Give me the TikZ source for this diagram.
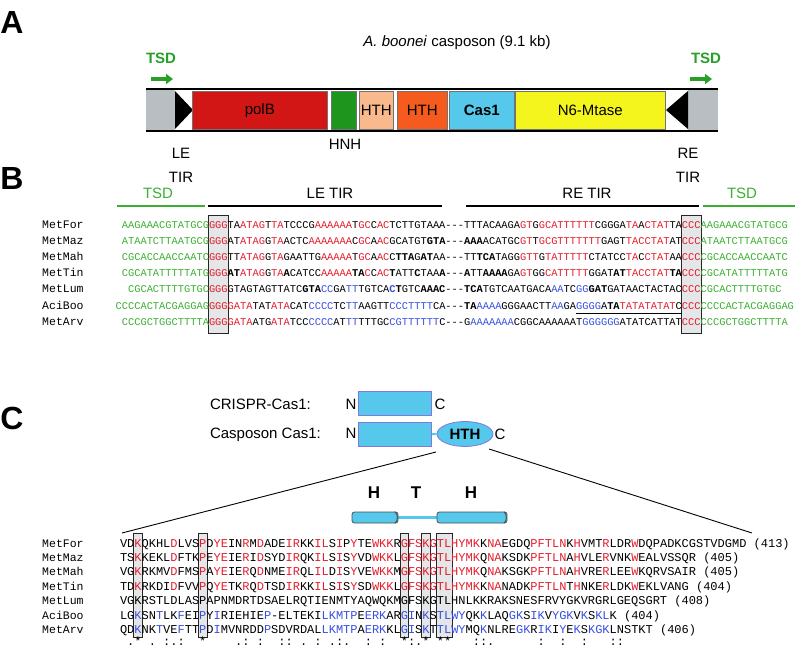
\documentclass[tikz,border=0pt]{standalone}
\usepackage{fontspec}
\setmainfont{Liberation Sans}
\setsansfont{Liberation Sans}
\setmonofont{Liberation Mono}
\usetikzlibrary{arrows.meta,shapes.geometric}
\definecolor{sred}{RGB}{228,30,45}
\definecolor{sblue}{RGB}{55,80,225}
\definecolor{sgreen}{RGB}{60,175,50}
\definecolor{tsdgreen}{RGB}{40,160,40}
\definecolor{cpolb}{RGB}{210,22,22}
\definecolor{chnh}{RGB}{30,150,30}
\definecolor{cpeach}{RGB}{250,185,140}
\definecolor{corange}{RGB}{245,90,30}
\definecolor{ccas}{RGB}{85,200,235}
\definecolor{cyel}{RGB}{245,245,30}
\definecolor{agray}{RGB}{185,190,195}
\definecolor{boxgray}{RGB}{228,230,232}
\definecolor{cedge}{RGB}{130,120,220}
\newcommand\sR[1]{\textcolor{sred}{#1}}
\newcommand\sB[1]{\textcolor{sblue}{#1}}
\newcommand\sG[1]{\textcolor{sgreen}{#1}}
\newcommand\sK[1]{\textbf{#1}}
\newcommand\sgap{-\kern0pt-\kern0pt-}
\begin{document}
\begin{tikzpicture}[x=1pt,y=-1pt,
  lab/.style={font=\fontsize{15}{18}\selectfont, inner sep=0, outer sep=0},
  plab/.style={font=\bfseries\fontsize{32}{36}\selectfont, inner sep=0},
  gene/.style={draw=black!55, line width=0.6, minimum height=38, inner sep=0, anchor=north west, font=\fontsize{15}{18}\selectfont},
  seqB/.style={font=\ttfamily\frenchspacing\fontsize{10.37}{12}\selectfont, inner sep=0, outer sep=0},
  seqC/.style={font=\ttfamily\frenchspacing\fontsize{12}{14}\selectfont, inner sep=0, outer sep=0, anchor=base west},
  nameS/.style={font=\ttfamily\fontsize{11.5}{13}\selectfont, inner sep=0, anchor=base west},
  hdrline/.style={line width=2},
  colbox/.style={fill=boxgray, draw=black!85, line width=0.8},
  tsdarrow/.style={draw=tsdgreen, line width=3.2, -{Triangle[length=7pt,width=10pt]}},
  cbox/.style={fill=ccas, draw=cedge, line width=0.8, inner sep=0, anchor=north west, minimum width=73, minimum height=23.5},
  cyl/.style={draw=black!70, fill=ccas, rounded corners=2.5, minimum height=11, inner sep=0, line width=0.8},
  hlx/.style={font=\bfseries\fontsize{17}{20}\selectfont, inner sep=0}
]
\useasboundingbox (0,0) rectangle (796,647);

%%%%%%%%%%%%%%%% Panel A
\node[plab] (lA) at (12,22) {A};
\node[lab, anchor=base] (title) at (457,47) {\textit{A. boonei} casposon (9.1 kb)};
\fill[agray] (146,89) rectangle (175,131);
\fill[agray] (688,89) rectangle (718,131);
\fill[black] (175,91) -- (175,129) -- (193,110) -- cycle;
\fill[black] (688,91) -- (688,129) -- (666,110) -- cycle;
\node[gene, fill=cpolb, minimum width=135] (polB) at (192,91) {polB};
\node[gene, fill=chnh, minimum width=25] (hnh) at (331,91) {};
\node[gene, fill=cpeach, minimum width=34] (hth1) at (359,91) {HTH};
\node[gene, fill=corange, minimum width=50] (hth2) at (397,91) {HTH};
\node[gene, fill=ccas, minimum width=65, font=\bfseries\fontsize{15}{18}\selectfont] (cas1) at (449,91) {Cas1};
\node[gene, fill=cyel, minimum width=150] (mtase) at (515,91) {N6-Mtase};
\draw[line width=2] (146,89) -- (718,89);
\draw[line width=2] (146,131) -- (718,131);
\node[lab, font=\bfseries\fontsize{15}{18}\selectfont, text=tsdgreen] (tsdAL) at (161,58) {TSD};
\node[lab, font=\bfseries\fontsize{15}{18}\selectfont, text=tsdgreen] (tsdAR) at (706,58) {TSD};
\coordinate (aL1) at (151,79); \coordinate (aL2) at (173,79);
\coordinate (aR1) at (690,79); \coordinate (aR2) at (712,79);
\draw[tsdarrow] (aL1) -- (aL2);
\draw[tsdarrow] (aR1) -- (aR2);
\node[lab] (hnhL) at (345,144.5) {HNH};
\node[lab] (leL) at (181,153.5) {LE};
\node[lab] (leT) at (181,177.5) {TIR};
\node[lab] (reL) at (688,153.5) {RE};
\node[lab] (reT) at (688,177.5) {TIR};

%%%%%%%%%%%%%%%% Panel B
\node[plab] (lB) at (12,178) {B};
\node[lab, text=sgreen] (hTSD1) at (158,193.5) {TSD};
\node[lab] (hLE) at (330,193.5) {LE TIR};
\node[lab] (hRE) at (587,193.5) {RE TIR};
\node[lab, text=sgreen] (hTSD2) at (742,193.5) {TSD};
\draw[hdrline, sgreen] (117,206) -- (205,206);
\draw[hdrline] (208,206) -- (442,206);
\draw[hdrline] (466,206) -- (699,206);
\draw[hdrline, sgreen] (703,206) -- (795,206);
\draw[colbox] (208.3,215) rectangle (228.4,333);
\draw[colbox] (681.5,215) rectangle (701,333);

\node[nameS] (nB1) at (42,228.6) {MetFor};
\node[nameS] (nB2) at (42,244.7) {MetMaz};
\node[nameS] (nB3) at (42,260.8) {MetMah};
\node[nameS] (nB4) at (42,276.9) {MetTin};
\node[nameS] (nB5) at (42,293.0) {MetLum};
\node[nameS] (nB6) at (42,309.1) {AciBoo};
\node[nameS] (nB7) at (42,325.2) {MetArv};

\node[seqB, anchor=base east] (gB1) at (209,228.6) {\sG{AAGAAACGTATGCG}};
\node[seqB, anchor=base east] (gB2) at (209,244.7) {\sG{ATAATCTTAATGCG}};
\node[seqB, anchor=base east] (gB3) at (209,260.8) {\sG{CGCACCAACCAATC}};
\node[seqB, anchor=base east] (gB4) at (209,276.9) {\sG{CGCATATTTTTATG}};
\node[seqB, anchor=base east] (gB5) at (209,293.0) {\sG{CGCACTTTTGTGC}};
\node[seqB, anchor=base east] (gB6) at (209,309.1) {\sG{CCCCACTACGAGGAG}};
\node[seqB, anchor=base east] (gB7) at (209,325.2) {\sG{CCCGCTGGCTTTTA}};

\node[seqB, anchor=base west] (sB1) at (209,228.6) {\sR{GGG}TA\sR{ATAG}T\sR{TA}TCCCG\sR{AAAAAA}T\sR{GC}C\sR{AC}TCTTGTAAA\sgap TTTACAAGA\sR{GT}G\sR{GCATTTTTT}CGGGA\sR{TA}A\sR{CTAT}TA\sR{CCC}\sG{AAGAAACGTATGCG}};
\node[seqB, anchor=base west] (sB2) at (209,244.7) {\sR{GGG}AT\sR{ATAG}G\sR{TA}ACTC\sR{AAAAAAA}C\sR{GC}A\sR{AC}GCATGT\sK{GTA}\sgap\sK{AAA}ACATGC\sR{GT}T\sR{GCGTTTTTTT}GAGT\sR{TACCTAT}AT\sR{CCC}\sG{ATAATCTTAATGCG}};
\node[seqB, anchor=base west] (sB3) at (209,260.8) {\sR{GGG}TT\sR{ATAG}G\sR{TA}GAATTG\sR{AAAAA}T\sR{GC}A\sR{AC}C\sK{TTA}G\sK{AT}AA\sgap TT\sK{TCA}TAGG\sR{GTT}G\sR{TATTTTT}CTATCC\sR{TA}C\sR{CTAT}AA\sR{CCC}\sG{CGCACCAACCAATC}};
\node[seqB, anchor=base west] (sB4) at (209,276.9) {\sR{GGG}\sK{AT}\sR{ATAG}G\sR{TA}\sK{A}CATCC\sR{AAAAA}\sK{TA}\sR{C}C\sR{AC}\sK{T}ATT\sK{C}TAA\sK{A}\sgap\sK{A}TT\sK{AAAA}GA\sR{GT}GG\sR{CATTTTT}GGAT\sK{AT}\sR{TACCTAT}\sK{TA}\sR{CCC}\sG{CGCATATTTTTATG}};
\node[seqB, anchor=base west] (sB5) at (209,293.0) {\sR{GGG}GTAGTAGTTATC\sK{GTA}\sB{CC}GA\sB{TT}TGTCA\sB{\textbf{C}}\sK{T}GTC\sK{AAAC}\sgap\sK{TCA}TGTCAATGACA\sB{AA}TC\sB{GG}\sK{GAT}GATAACTACTAC\sR{CCC}\sG{CGCACTTTTGTGC}};
\node[seqB, anchor=base west] (sB6) at (209,309.1) {\sR{GGG}\sR{GATA}TAT\sR{ATA}CAT\sB{CCCC}TC\sB{TT}AAGTT\sB{CCCTTTT}CA\sgap\sK{TA}\sB{AAAA}GGGAACTT\sB{AA}GA\sB{GGGG}A\sK{TA}\sR{TATATATAT}C\sR{CCC}\sG{CCCCACTACGAGGAG}};
\node[seqB, anchor=base west] (sB7) at (209,325.2) {\sR{GGG}\sR{GATA}ATG\sR{ATA}TCC\sB{CCCC}AT\sB{TT}TTTGC\sB{CGTTTTTT}C\sgap G\sB{AAAAAAA}CGGCAAAAAAT\sB{GGGGGG}ATATCATTAT\sR{CCC}\sG{CCCGCTGGCTTTTA}};
\coordinate (ul1) at (576,313); \coordinate (ul2) at (681.5,313);
\draw[line width=0.8] (ul1) -- (ul2);

%%%%%%%%%%%%%%%% Panel C
\node[plab] (lC) at (12,418) {C};
\node[lab, anchor=base west] (crL) at (210,409.5) {CRISPR-Cas1:};
\node[lab, anchor=base west] (caL) at (210,438) {Casposon Cas1:};
\node[lab, anchor=base] (n1) at (351,409.5) {N};
\node[lab, anchor=base] (n2) at (351,438.5) {N};
\node[cbox] (b1) at (358,391) {};
\node[cbox] (b2) at (358,422) {};
\node[lab, anchor=base] (c1) at (440,409.5) {C};
\node[ellipse, fill=ccas, draw=cedge, line width=0.8, minimum width=56, minimum height=25, inner sep=0, font=\bfseries\fontsize{15}{18}\selectfont] (hth) at (465,434) {HTH};
\draw[ccas, line width=2] (b2.east) -- (hth.west);
\node[lab, anchor=base] (c2) at (500,439) {C};
\coordinate (zs1) at (436,452); \coordinate (ze1) at (122,533);
\coordinate (zs2) at (489,449); \coordinate (ze2) at (752,533);
\draw[line width=0.9] (zs1) -- (ze1);
\draw[line width=0.9] (zs2) -- (ze2);

\node[hlx] (hx1) at (374,493) {H};
\node[hlx] (hx2) at (416,493) {T};
\node[hlx] (hx3) at (471,493) {H};
\draw[ccas, line width=2.4] (398,517.5) -- (437,517.5);
\node[cyl, minimum width=46] (cy1) at (375,517.5) {};
\node[cyl, minimum width=70] (cy2) at (472,517.5) {};
\draw[black!70, line width=0.8] ([xshift=-3.5]cy1.north east) to[bend left=45] ([xshift=-3.5]cy1.south east);
\draw[black!70, line width=0.8] ([xshift=-3.5]cy2.north east) to[bend left=45] ([xshift=-3.5]cy2.south east);

\draw[colbox] (133.6,533) rectangle (142.4,637);
\draw[colbox] (198.4,533) rectangle (207.2,637);
\draw[colbox] (400,533) rectangle (408.8,637);
\draw[colbox] (421.6,533) rectangle (430.4,637);
\draw[colbox] (436,533) rectangle (452,637);

\node[nameS] (nC1) at (42,547) {MetFor};
\node[nameS] (nC2) at (42,561.4) {MetMaz};
\node[nameS] (nC3) at (42,575.9) {MetMah};
\node[nameS] (nC4) at (42,590.3) {MetTin};
\node[nameS] (nC5) at (42,604.7) {MetLum};
\node[nameS] (nC6) at (42,619.2) {AciBoo};
\node[nameS] (nC7) at (42,633.6) {MetArv};

\node[seqC] (sC1) at (120,547) {VD\sR{K}QKHL\sR{D}LVS\sR{P}D\sR{YE}IN\sR{R}M\sR{D}ADE\sR{IR}KK\sR{IL}S\sR{I}P\sR{Y}TE\sR{WKK}R\sR{GFSKGTLHYMK}K\sR{NA}EGDQ\sR{PFTLN}K\sR{H}VMT\sR{R}LDR\sR{W}DQPADKCGSTVDGMD (413)};
\node[seqC] (sC2) at (120,561.4) {TS\sR{K}KEKL\sR{D}FTK\sR{P}E\sR{YE}IE\sR{R}I\sR{D}SYD\sR{IR}QK\sR{IL}S\sR{I}S\sR{Y}VD\sR{WKK}L\sR{GFSKGTLHYMK}Q\sR{NA}KSDK\sR{PFTLN}A\sR{H}VLE\sR{R}VNK\sR{W}EALVSSQR (405)};
\node[seqC] (sC3) at (120,575.9) {VG\sR{K}RKMV\sR{D}FMS\sR{P}A\sR{YE}IE\sR{R}Q\sR{D}NME\sR{IR}QL\sR{IL}D\sR{I}S\sR{Y}VE\sR{WKK}M\sR{GFSKGTLHYMK}Q\sR{NA}KSGK\sR{PFTLN}A\sR{H}VRE\sR{R}LEE\sR{W}KQRVSAIR (405)};
\node[seqC] (sC4) at (120,590.3) {TD\sR{K}RKDI\sR{D}FVV\sR{P}Q\sR{YE}TK\sR{R}Q\sR{D}TSD\sR{IR}KK\sR{IL}S\sR{I}S\sR{Y}SD\sR{WKK}L\sR{GFSKGTLHYMK}K\sR{NA}NADK\sR{PFTLN}T\sR{H}NKE\sR{R}LDK\sR{W}EKLVANG (404)};
\node[seqC] (sC5) at (120,604.7) {VGKRSTLDLASPAPNMDRTDSAELRQTIENMTYAQWQKMGFSKGTLHNLKKRAKSNESFRVYGKVRGRLGEQSGRT (408)};
\node[seqC] (sC6) at (120,619.2) {LG\sB{K}SN\sB{T}LK\sB{F}EI\sB{P}Y\sB{I}RIEHIE\sB{P}-ELTEKI\sB{LKMTP}E\sB{ERK}AR\sB{GI}N\sB{K}S\sB{TLWY}QK\sB{K}LAQ\sB{GK}S\sB{IK}V\sB{YGK}V\sB{K}S\sB{KL}K (404)};
\node[seqC] (sC7) at (120,633.6) {QD\sB{K}NK\sB{T}VE\sB{F}TT\sB{P}D\sB{I}MVNRDD\sB{P}SDVRDAL\sB{LKMTP}A\sB{ERK}KL\sB{GI}S\sB{K}T\sB{TLWY}MQ\sB{K}NLRE\sB{GK}R\sB{IK}I\sB{Y}E\sB{K}S\sB{KGK}LNSTKT (406)};
\node[seqC] (cons) at (120,645) {~.*~.~:.:~~*~~~~.:~:~~::~.~:~.:.~~:~:~~*:.*~**~~~::.~~~~~~:~~:~~:~~~::};
\end{tikzpicture}
\end{document}
